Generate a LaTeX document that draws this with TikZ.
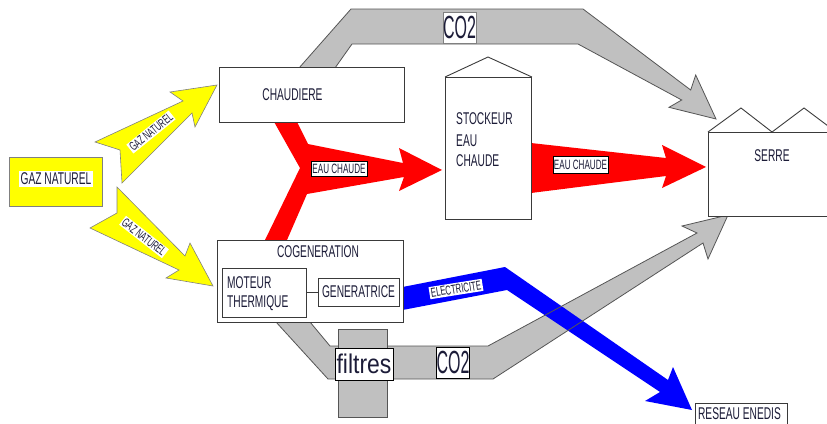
\documentclass[tikz,border=0pt]{standalone}
\usepackage{fontspec}
\setmainfont{Liberation Sans}[FakeStretch=0.6]
\newfontfamily\widefont{Liberation Sans}[FakeStretch=0.85]
\newfontfamily\slimfont{Liberation Sans}[FakeStretch=0.5]
\definecolor{ink}{HTML}{1C1C38}
\definecolor{frame}{HTML}{3A3A3A}
\definecolor{smoke}{HTML}{C0C0C0}
\definecolor{smokeline}{HTML}{555555}
\definecolor{gasfill}{HTML}{FFFF00}
\definecolor{waterfill}{HTML}{FF0000}
\definecolor{powerfill}{HTML}{0000FF}
\begin{document}
\begin{tikzpicture}[x=1pt,y=-1pt,
  box/.style={draw=frame, fill=white, line width=0.9pt, inner sep=0pt, anchor=north west},
  txt/.style={text=ink, inner sep=0pt, font=\fontsize{17}{20}\selectfont},
  tag/.style={fill=white, draw=black, line width=0.6pt, inner sep=0pt, text=ink, font=\fontsize{13.5}{15}\selectfont},
  gastag/.style={fill=white, inner sep=1.2pt, text=ink, font=\fontsize{12.5}{14}\selectfont},
  smokeband/.style={fill=smoke, draw=smokeline, line width=0.8pt, line join=miter},
  gasarrow/.style={fill=gasfill, draw=gray, line width=0.6pt},
  waterarrow/.style={fill=waterfill},
  powerarrow/.style={fill=powerfill},
  bigtag/.style={fill=white, draw=black, line width=0.7pt, inner sep=0pt, text=ink}]
\useasboundingbox (0,0) rectangle (827,423);

% CO2 from the boiler up and over to the greenhouse
\draw[smokeband] (299,68) -- (351,9) -- (583,9) -- (690.7,90) -- (695.7,75) -- (716,119)
  -- (669,107.3) -- (681.7,100) -- (578,44) -- (352,44) -- (335,68) -- cycle;

% CO2 from the cogeneration through the filters (fill first, outline after the power flow)
\path[fill=smoke] (276,322) -- (328,379) -- (493,379) -- (703,243) -- (708,259) -- (728,215)
  -- (682,226) -- (697,233) -- (488,346) -- (330,346) -- (310,322) -- cycle;

% electricity to the grid
\path[powerarrow] (400,287.5) -- (505,267) -- (668,380) -- (673,367) -- (692,410) -- (645,401)
  -- (660,392) -- (507,290) -- (400,310.5) -- cycle;

\draw[smokeline, line width=0.8pt, line join=miter] (276,322) -- (328,379) -- (493,379) -- (703,243) -- (708,259) -- (728,215)
  -- (682,226) -- (697,233) -- (488,346) -- (330,346) -- (310,322);

% filters block
\node[fill=smoke, draw=smokeline, line width=0.8pt, minimum width=49pt, minimum height=88pt, inner sep=0pt, anchor=north west] (filt) at (338,329) {};
\node[bigtag, minimum width=58pt, minimum height=32pt, font=\widefont\fontsize{27}{30}\selectfont] (filtlbl) at (364,364) {filtres};

% hot water flows
\path[waterarrow] (273,120) -- (300,168) -- (265,240) -- (287,240) -- (307,194) -- (404,177)
  -- (399,191) -- (442,170) -- (399,148) -- (403,163) -- (308,144) -- (296,120) -- cycle;
\path[waterarrow] (531,143) -- (666,158) -- (662,145) -- (706,167) -- (662,188) -- (666,176)
  -- (531,193) -- cycle;

% natural gas flows
\draw[gasarrow] (95,142) -- (183,101) -- (170,92) -- (217,85) -- (195,127) -- (192,113)
  -- (122,183) -- (120,150) -- cycle;
\draw[gasarrow] (117,187) -- (185,256) -- (190,243) -- (213,286) -- (166,278) -- (179,270)
  -- (90,228) -- (117,213) -- cycle;

% equipment
\node[box, fill=gasfill, draw=gray, minimum width=93pt, minimum height=49pt] (gas) at (9,157) {};
\node[fill=white, inner sep=1.5pt, text=ink, font=\fontsize{17}{20}\selectfont] (gaslbl) at (56,179) {GAZ NATUREL};

\node[box, minimum width=185pt, minimum height=55pt] (boiler) at (219,67) {};
\node[txt] (boilerlbl) at (292.5,95) {CHAUDIERE};

\node[box, minimum width=86pt, minimum height=142pt] (tank) at (445,77) {};
\draw[frame, line width=0.9pt] (tank.north west) -- (488,57) -- (tank.north east);
\node[txt, anchor=west] (tank1) at (456,119) {STOCKEUR};
\node[txt, anchor=west] (tank2) at (456,140.5) {EAU};
\node[txt, anchor=west] (tank3) at (456,160.5) {CHAUDE};

\node[box, minimum width=130pt, minimum height=84pt] (greenhouse) at (708,132) {};
\draw[frame, line width=0.9pt] (greenhouse.north west) -- (741,108) -- (772,132) -- (804,108) -- (836,132);
\node[txt] (greenlbl) at (772,156) {SERRE};

\node[box, minimum width=186pt, minimum height=82pt] (cogen) at (217,240) {};
\node[txt] (cogenlbl) at (318,252) {COGENERATION};
\node[box, minimum width=84pt, minimum height=49pt] (engine) at (222,268) {};
\node[txt, anchor=west] (engine1) at (227,282.5) {MOTEUR};
\node[txt, anchor=west] (engine2) at (227,303) {THERMIQUE};
\node[box, minimum width=81pt, minimum height=28pt] (alt) at (318,278) {};
\node[txt] (altlbl) at (358.5,292) {GENERATRICE};
\draw[frame, line width=0.9pt] (engine.east |- 0,292) -- (alt.west |- 0,292);

\node[box, minimum width=92pt, minimum height=30pt] (grid) at (695,403) {};
\node[txt] (gridlbl) at (739.5,414) {RESEAU ENEDIS};

% flow labels
\node[tag, minimum width=56pt, minimum height=15pt] (hw1) at (339,168.5) {EAU CHAUDE};
\node[tag, minimum width=55pt, minimum height=17pt] (hw2) at (580.5,164.5) {EAU CHAUDE};
\node[gastag, rotate=39] (g1) at (151,132) {GAZ NATUREL};
\node[gastag, rotate=-38] (g2) at (144,237) {GAZ NATUREL};
\node[fill=white, inner sep=1.5pt, text=ink, font=\fontsize{13}{15}\selectfont, rotate=9] (elec) at (456,289) {ELECTRICITE};
\node[bigtag, draw=gray, minimum width=33pt, minimum height=31pt, font=\slimfont\fontsize{32}{34}\selectfont] (co2a) at (459.5,27.5) {CO2};
\node[bigtag, minimum width=32pt, minimum height=31pt, font=\slimfont\fontsize{32}{34}\selectfont] (co2b) at (453,362.5) {CO2};
\end{tikzpicture}
\end{document}
